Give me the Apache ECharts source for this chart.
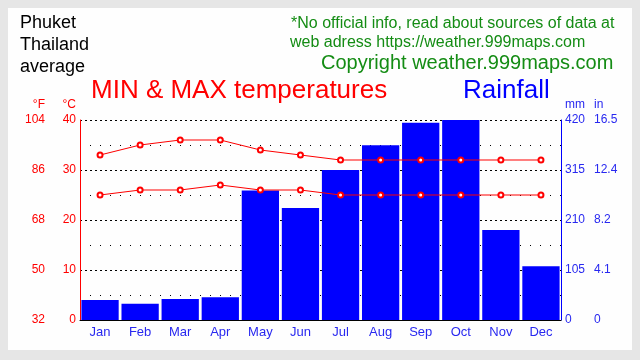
<!DOCTYPE html>
<html>
<head>
<meta charset="utf-8">
<script src="https://cdn.jsdelivr.net/npm/echarts@6/dist/echarts.min.js"></script>
<style>
html,body{margin:0;padding:0;background:#e6e6e6;}
#c{width:640px;height:360px;}
</style>
</head>
<body>
<div id="c"></div>
<script>
const months = ['Jan','Feb','Mar','Apr','May','Jun','Jul','Aug','Sep','Oct','Nov','Dec'];
const maxTemp = [33, 35, 36, 36, 34, 33, 32, 32, 32, 32, 32, 32];
const minTemp = [25, 26, 26, 27, 26, 26, 25, 25, 25, 25, 25, 25];
const rainfall = [42, 34, 44, 48, 272, 235, 315, 367, 414, 420, 189, 113];
const fLabels = ['32', '50', '68', '86', '104'];
const inLabels = ['0', '4.1', '8.2', '12.4', '16.5'];

const FONT = '"Liberation Sans", Arial, sans-serif';
const RED = '#ff0000';
const BLUE = '#0000ff';
const BLUE_TXT = '#2828f0';
const GREEN = '#148c14';

const chart = echarts.init(document.getElementById('c'), null, {renderer: 'canvas'});

function txt(x, y, text, size, color, align) {
  return {type: 'text', x: x, y: y, z: 100,
    style: {text: text, fill: color, font: size + 'px ' + FONT, textAlign: align || 'left', textVerticalAlign: 'middle'}};
}

chart.setOption({
  animation: false,
  backgroundColor: '#e6e6e6',
  grid: {left: 80, right: 79, top: 120, bottom: 40, containLabel: false},
  graphic: [
    {type: 'rect', shape: {x: 8, y: 8, width: 624, height: 342}, style: {fill: '#fefefe'}, z: -10},
    txt(20, 23, 'Phuket', 18, '#000'),
    txt(20, 45, 'Thailand', 18, '#000'),
    txt(20, 67, 'average', 18, '#000'),
    txt(91, 91, 'MIN & MAX temperatures', 26, RED),
    txt(463, 91, 'Rainfall', 26, BLUE),
    txt(291, 24, '*No official info, read about sources of data at', 16, GREEN),
    txt(290, 43, 'web adress https://weather.999maps.com', 16, GREEN),
    txt(321, 63, 'Copyright weather.999maps.com', 20, GREEN),
    txt(45, 105, '°F', 12, RED, 'right'),
    txt(76, 105, '°C', 12, RED, 'right'),
    txt(565, 105, 'mm', 12, BLUE_TXT),
    txt(594, 105, 'in', 12, BLUE_TXT)
  ],
  xAxis: {
    type: 'category', data: months,
    axisLine: {show: true, lineStyle: {color: '#000', width: 1}},
    axisTick: {show: false},
    axisLabel: {color: BLUE_TXT, fontSize: 13, fontFamily: FONT, margin: 6},
    splitLine: {show: false}
  },
  yAxis: [
    {
      type: 'value', position: 'left', min: 0, max: 40, interval: 10,
      axisLine: {show: true, lineStyle: {color: RED, width: 1}},
      axisTick: {show: false},
      axisLabel: {color: RED, fontSize: 12, fontFamily: FONT, margin: 4},
      splitLine: {show: true, lineStyle: {color: '#000', type: [2, 3], width: 1}},
      minorTick: {show: false, splitNumber: 2},
      minorSplitLine: {show: true, lineStyle: {color: '#000', type: [1, 9], width: 1}}
    },
    {
      type: 'value', position: 'left', offset: 31, min: 0, max: 40, interval: 10,
      axisLine: {show: false}, axisTick: {show: false}, splitLine: {show: false},
      axisLabel: {color: RED, fontSize: 12, fontFamily: FONT, margin: 4,
        formatter: function (v) { return fLabels[Math.round(v / 10)]; }}
    },
    {
      type: 'value', position: 'right', min: 0, max: 420, interval: 105,
      axisLine: {show: true, lineStyle: {color: BLUE, width: 1}},
      axisTick: {show: false}, splitLine: {show: false},
      axisLabel: {color: BLUE_TXT, fontSize: 12, fontFamily: FONT, margin: 4}
    },
    {
      type: 'value', position: 'right', offset: 29, min: 0, max: 420, interval: 105,
      axisLine: {show: false}, axisTick: {show: false}, splitLine: {show: false},
      axisLabel: {color: BLUE_TXT, fontSize: 12, fontFamily: FONT, margin: 4,
        formatter: function (v) { return inLabels[Math.round(v / 105)]; }}
    }
  ],
  series: [
    {
      type: 'bar', name: 'Rainfall', data: rainfall, yAxisIndex: 2,
      barCategoryGap: '7%', itemStyle: {color: BLUE}, z: 2
    },
    {
      type: 'line', name: 'Max', data: maxTemp, yAxisIndex: 0,
      symbol: 'emptyCircle', symbolSize: 5,
      lineStyle: {color: RED, width: 1}, itemStyle: {color: RED, borderWidth: 1.2}, z: 5
    },
    {
      type: 'line', name: 'Min', data: minTemp, yAxisIndex: 0,
      symbol: 'emptyCircle', symbolSize: 5,
      lineStyle: {color: RED, width: 1}, itemStyle: {color: RED, borderWidth: 1.2}, z: 5
    }
  ]
});
</script>
</body>
</html>
